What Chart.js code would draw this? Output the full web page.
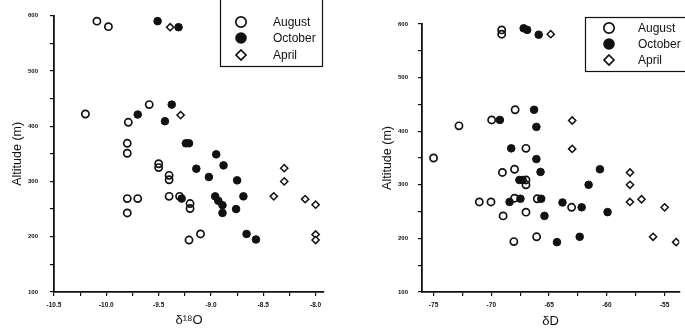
<!DOCTYPE html>
<html>
<head>
<meta charset="utf-8">
<script src="https://cdn.jsdelivr.net/npm/chart.js@4.4.1/dist/chart.umd.min.js"></script>
<style>
  html, body { margin: 0; padding: 0; background: #fff; overflow: hidden; }
  canvas { position: absolute; top: 0; }
  #chartO18 { left: 0; }
  #chartD { left: 340px; }
</style>
</head>
<body>
<canvas id="chartO18" width="340" height="329"></canvas>
<canvas id="chartD" width="345" height="329"></canvas>
<script>
// ---- data: δ18O panel ----
const augO18X = [-10.09, -9.98, -10.2, -9.79, -9.59, -9.8, -9.8, -9.5, -9.5, -9.4, -9.4, -9.8, -9.7, -9.8, -9.4, -9.3, -9.2, -9.2, -9.21, -9.1];
const augO18Y = [590, 580, 422, 407, 439, 369, 351, 332, 325, 311, 303, 269, 269, 243, 273, 273, 260, 251, 194, 205];
const octO18X = [-9.51, -9.31, -9.7, -9.375, -9.44, -9.24, -9.21, -8.95, -8.88, -9.14, -9.02, -8.75, -9.28, -8.96, -8.93, -8.89, -8.89, -8.76, -8.69, -8.66, -8.57];
const octO18Y = [590, 579, 421, 439, 409, 369, 369, 349, 329, 323, 308, 302, 269, 273, 265, 257, 243, 250, 273, 205, 195];
const aprO18X = [-9.39, -9.29, -8.4, -8.3, -8.3, -8.1, -8.0, -8.0, -8.0];
const aprO18Y = [579, 420, 273, 324, 300, 268, 258, 204, 194];

// ---- data: δD panel ----
const augDX = [-69.1, -69.1, -75, -72.8, -69.97, -67.94, -67.0, -69.04, -67.99, -67.0, -67.0, -71.04, -70.03, -67.99, -66.02, -63.05, -68.98, -67.0, -68.05, -66.08];
const augDY = [589, 581, 350, 410, 421, 440, 368, 323, 329, 309, 300, 268, 268, 275, 274, 258, 242, 249, 194, 203];
const octDX = [-67.2, -66.9, -65.9, -66.3, -69.26, -66.1, -68.28, -66.1, -65.74, -60.6, -61.58, -67.57, -67.29, -68.42, -67.48, -65.68, -63.84, -62.18, -65.4, -59.94, -64.32, -62.35];
const octDY = [592, 589, 580, 440, 421, 408, 368, 348, 324, 329, 300, 309, 309, 268, 274, 274, 267, 258, 242, 249, 193, 203];
const aprDX = [-64.86, -63.0, -63.0, -58, -58, -58, -57, -55, -56, -54];
const aprDY = [581, 420, 367, 323, 300, 268, 273, 258, 203, 193];

// ---- axes / ticks ----
const seriesNames = ["August", "October", "April"];
const yTicks = [100, 200, 300, 400, 500, 600];
const yMinor = [150, 250, 350, 450, 550];
const o18Ticks = [-10.5, -10.0, -9.5, -9.0, -8.5, -8.0];
const o18Labels = ["-10.5", "-10.0", "-9.5", "-9.0", "-8.5", "-8.0"];
const o18Minor = [-10.25, -9.75, -9.25, -8.75, -8.25];
const dTicks = [-75, -70, -65, -60, -55];
const dLabels = ["-75", "-70", "-65", "-60", "-55"];
const dMinor = [-72.5, -67.5, -62.5, -57.5];

const INK = "#111";
const FONT = "'Liberation Sans', Arial, sans-serif";

const zip = (xs, ys) => xs.map((x, i) => ({ x, y: ys[i] }));

function seriesStyle(i) {
    if (i === 0) return { pointStyle: "circle", pointRadius: 3.6, pointBackgroundColor: "rgba(0,0,0,0)", pointBorderColor: INK, pointBorderWidth: 1.7 };
    if (i === 1) return { pointStyle: "circle", pointRadius: 3.8, pointBackgroundColor: INK, pointBorderColor: INK, pointBorderWidth: 1 };
    return { pointStyle: "rectRot", pointRadius: 3.6, pointBackgroundColor: "#fff", pointBorderColor: INK, pointBorderWidth: 1.5 };
}

// legend drawn inside the plot, as in the scan
const boxLegend = {
    id: "boxLegend",
    afterDraw(chart, args, opts) {
        const ctx = chart.ctx;
        ctx.save();
        ctx.strokeStyle = INK;
        ctx.lineWidth = 1.2;
        ctx.strokeRect(opts.box[0], opts.box[1], opts.box[2], opts.box[3]);
        ctx.font = "12px " + FONT;
        ctx.textBaseline = "middle";
        chart.data.datasets.forEach((ds, i) => {
            const y = opts.rows[i];
            const x = opts.markX;
            ctx.lineWidth = 1.7;
            ctx.strokeStyle = INK;
            ctx.fillStyle = INK;
            ctx.beginPath();
            if (i === 2) {
                const r = 5;
                ctx.moveTo(x, y - r); ctx.lineTo(x + r, y); ctx.lineTo(x, y + r); ctx.lineTo(x - r, y); ctx.closePath();
                ctx.stroke();
            } else {
                ctx.arc(x, y, i === 1 ? 5.8 : 5.2, 0, Math.PI * 2);
                if (i === 1) ctx.fill(); else ctx.stroke();
            }
            ctx.fillStyle = INK;
            ctx.fillText(ds.label, opts.textX, y + 1);
        });
        ctx.restore();
    }
};

function pickLabel(ticks, labels) {
    return function (value) {
        const k = ticks.findIndex(t => Math.abs(t - value) < 1e-6);
        return k >= 0 ? labels[k] : "";
    };
}

function makeChart(id, cfg) {
    const ctx = document.getElementById(id).getContext("2d");
    const datasets = cfg.series.map((s, i) => Object.assign({
        label: seriesNames[i],
        data: zip(s[0], s[1])
    }, seriesStyle(i)));

    const yAll = yTicks.concat(yMinor).sort((a, b) => a - b);
    const xAll = cfg.xTicks.concat(cfg.xMinor).sort((a, b) => a - b);

    return new Chart(ctx, {
        type: "scatter",
        data: { datasets },
        plugins: [boxLegend],
        options: {
            responsive: false,
            animation: false,
            layout: { padding: cfg.padding },
            plugins: {
                legend: { display: false },
                tooltip: { enabled: false },
                boxLegend: cfg.legend
            },
            scales: {
                x: {
                    type: "linear",
                    min: cfg.xMin,
                    max: cfg.xMax,
                    afterBuildTicks: sc => { sc.ticks = xAll.map(v => ({ value: v })); },
                    afterFit: sc => { sc.height = 37; },
                    border: { display: true, color: INK, width: 1.8 },
                    grid: { drawOnChartArea: false, drawTicks: true, tickLength: 4, color: INK, lineWidth: 1.2 },
                    ticks: {
                        autoSkip: false, maxRotation: 0, padding: 5, color: INK,
                        font: { family: FONT, size: 6.5, weight: "bold" },
                        callback: pickLabel(cfg.xTicks, cfg.xLabels)
                    },
                    title: {
                        display: true, text: cfg.xTitle, color: INK,
                        font: { family: FONT, size: 13 },
                        padding: { top: 0, bottom: cfg.xTitlePad }
                    }
                },
                y: {
                    type: "linear",
                    min: 100,
                    max: 600,
                    afterBuildTicks: sc => { sc.ticks = yAll.map(v => ({ value: v })); },
                    afterFit: sc => { sc.width = cfg.yWidth; },
                    border: { display: true, color: INK, width: 1.8 },
                    grid: { drawOnChartArea: false, drawTicks: true, tickLength: 4, color: INK, lineWidth: 1.2 },
                    ticks: {
                        autoSkip: false, padding: cfg.yTickPad, color: INK,
                        font: { family: FONT, size: 6, weight: "bold" },
                        callback: pickLabel(yTicks, yTicks.map(String))
                    },
                    title: {
                        display: true, text: "Altitude (m)", color: INK,
                        font: { family: FONT, size: 12.5 },
                        padding: { top: cfg.yTitlePad, bottom: 0 }
                    }
                }
            }
        }
    });
}

makeChart("chartO18", {
    series: [[augO18X, augO18Y], [octO18X, octO18Y], [aprO18X, aprO18Y]],
    xMin: -10.5, xMax: -7.92,
    xTicks: o18Ticks, xLabels: o18Labels, xMinor: o18Minor,
    xTitle: "δ¹⁸O", xTitlePad: 1,
    yWidth: 54, yTickPad: 12, yTitlePad: 10,
    padding: { top: 15, right: 16, left: 0, bottom: 0 },
    legend: { box: [220.5, -2, 102, 68.5], markX: 241, textX: 273, rows: [22, 38, 55] }
});

makeChart("chartD", {
    series: [[augDX, augDY], [octDX, octDY], [aprDX, aprDY]],
    xMin: -76, xMax: -53.73,
    xTicks: dTicks, xLabels: dLabels, xMinor: dMinor,
    xTitle: "δD", xTitlePad: 0,
    yWidth: 82, yTickPad: 10, yTitlePad: 40,
    padding: { top: 24, right: 0, left: 0, bottom: 0 },
    legend: { box: [245.5, 17.5, 104, 54], markX: 269, textX: 298, rows: [28, 44, 60] }
});
</script>
</body>
</html>
